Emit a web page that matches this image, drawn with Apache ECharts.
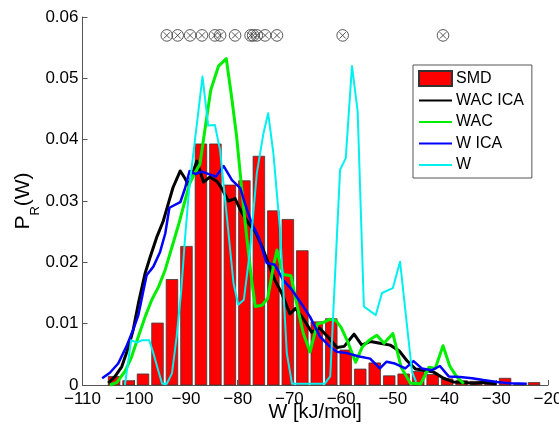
<!DOCTYPE html>
<html>
<head>
<meta charset="utf-8">
<script src="https://cdn.jsdelivr.net/npm/echarts@6/dist/echarts.min.js"></script>
<style>
  html, body { margin: 0; padding: 0; background: #fff; }
  #chart { width: 559px; height: 426px; }
</style>
</head>
<body>
<div id="chart"></div>
<script>
// Histogram of SMD work values: bin centres (kJ/mol) and probability densities
const binCenters = [-103.9, -101.1, -98.3, -95.5, -92.7, -89.9, -87.1, -84.3, -81.5, -78.7,
                    -75.9, -73.1, -70.3, -67.5, -64.7, -61.9, -59.1, -56.3, -53.5, -50.7,
                    -47.9, -45.1, -42.3, -39.5, -36.7, -33.9, -31.1, -28.3, -25.5, -22.7];
const smdDensity = [0.0014, 0.0007, 0.0018, 0.0101, 0.0172, 0.0226, 0.0393, 0.0393, 0.0326, 0.0333,
                    0.0373, 0.0284, 0.0270, 0.0219, 0.0103, 0.0108, 0.0057, 0.0026, 0.0036, 0.0015,
                    0.0018, 0.0022, 0.0017, 0.0010, 0.0007, 0.0006, 0.0006, 0.0011, 0.0001, 0.0004];
const binWidth = 2.8;

// Reconstructed distributions, [W, P_R(W)]
const wacIca = [[-105.0,0.0003],[-103.7,0.0014],[-102.4,0.0030],[-101.1,0.0062],[-100.2,0.0090],
  [-99.2,0.0133],[-97.9,0.0182],[-96.9,0.0209],[-95.6,0.0242],[-94.4,0.0267],[-93.4,0.0296],
  [-92.5,0.0322],[-91.1,0.0349],[-90.2,0.0337],[-89.5,0.0326],[-87.9,0.0365],[-86.6,0.0331],
  [-85.4,0.0339],[-84.0,0.0332],[-83.1,0.0321],[-81.8,0.0300],[-80.5,0.0304],[-79.2,0.0281],
  [-77.9,0.0264],[-76.6,0.0250],[-75.3,0.0226],[-74.1,0.0199],[-72.8,0.0171],[-71.5,0.0150],
  [-69.9,0.0116],[-68.8,0.0125],[-67.0,0.0104],[-65.7,0.0086],[-64.2,0.0093],[-62.5,0.0078],
  [-60.8,0.0061],[-59.4,0.0063],[-57.5,0.0083],[-56.0,0.0065],[-54.3,0.0071],[-52.5,0.0068],
  [-50.5,0.0065],[-48.8,0.0056],[-47.3,0.0040],[-45.6,0.0026],[-43.8,0.0024],[-42.1,0.0021],
  [-40.2,0.0011],[-38.3,0.0005],[-36.3,0.0004],[-34.4,0.0003],[-32.5,0.0004],[-30.0,0.0002]];

const wac = [[-104.7,0.0000],[-103.4,0.0004],[-101.8,0.0022],[-100.5,0.0046],[-99.2,0.0079],
  [-97.9,0.0111],[-96.6,0.0139],[-95.3,0.0160],[-94.0,0.0188],[-92.7,0.0225],[-91.3,0.0265],
  [-90.2,0.0300],[-89.3,0.0328],[-88.4,0.0344],[-87.3,0.0360],[-86.3,0.0418],[-85.2,0.0481],
  [-83.7,0.0520],[-82.2,0.0532],[-81.1,0.0465],[-80.2,0.0405],[-79.2,0.0318],[-78.2,0.0237],
  [-77.3,0.0171],[-76.6,0.0128],[-75.3,0.0130],[-74.2,0.0141],[-73.1,0.0193],[-72.4,0.0220],
  [-71.8,0.0199],[-71.2,0.0180],[-69.7,0.0178],[-68.6,0.0133],[-67.3,0.0084],[-66.0,0.0054],
  [-64.6,0.0100],[-63.4,0.0102],[-62.2,0.0107],[-61.0,0.0105],[-60.0,0.0094],[-58.8,0.0072],
  [-57.2,0.0037],[-55.9,0.0062],[-54.6,0.0073],[-53.1,0.0081],[-51.7,0.0068],[-50.0,0.0084],
  [-48.4,0.0029],[-46.6,0.0003],[-44.6,0.0002],[-43.0,0.0029],[-41.8,0.0027],[-40.3,0.0064],
  [-39.0,0.0031],[-37.7,0.0014],[-36.3,0.0002]];

const wIca = [[-106.2,0.0011],[-104.7,0.0020],[-103.1,0.0035],[-101.5,0.0063],[-100.2,0.0090],
  [-99.2,0.0114],[-98.2,0.0155],[-97.6,0.0179],[-96.3,0.0193],[-95.0,0.0217],[-94.0,0.0247],
  [-93.2,0.0289],[-91.1,0.0298],[-90.2,0.0320],[-89.3,0.0349],[-88.2,0.0344],[-86.9,0.0348],
  [-85.3,0.0343],[-84.2,0.0340],[-82.7,0.0357],[-81.1,0.0334],[-79.5,0.0321],[-78.6,0.0296],
  [-77.3,0.0264],[-76.0,0.0242],[-74.4,0.0199],[-72.8,0.0196],[-71.2,0.0171],[-69.5,0.0155],
  [-67.8,0.0134],[-66.0,0.0111],[-64.1,0.0079],[-62.1,0.0062],[-60.8,0.0054],[-58.9,0.0052],
  [-56.7,0.0047],[-54.4,0.0043],[-52.5,0.0027],[-51.2,0.0038],[-49.6,0.0035],[-47.6,0.0027],
  [-46.0,0.0039],[-44.4,0.0027],[-42.5,0.0024],[-40.9,0.0031],[-39.2,0.0014],[-37.0,0.0013],
  [-34.7,0.0011],[-32.5,0.0008],[-29.9,0.0005],[-27.3,0.0003],[-24.1,0.0002]];

const w = [[-101.8,0.0000],[-100.6,0.0073],[-99.5,0.0069],[-98.5,0.0073],[-97.1,0.0073],
  [-96.3,0.0052],[-95.3,0.0022],[-94.6,0.0002],[-93.7,0.0002],[-92.7,0.0019],[-91.8,0.0079],
  [-90.9,0.0155],[-90.2,0.0237],[-89.4,0.0318],[-86.8,0.0503],[-85.7,0.0423],[-84.4,0.0424],
  [-83.4,0.0383],[-82.1,0.0275],[-80.8,0.0166],[-79.9,0.0131],[-78.8,0.0139],[-77.6,0.0220],
  [-76.3,0.0345],[-75.0,0.0411],[-74.1,0.0443],[-73.1,0.0378],[-71.8,0.0253],[-70.5,0.0052],
  [-69.5,0.0002],[-63.2,0.0002],[-62.1,0.0014],[-60.2,0.0351],[-59.1,0.0370],[-57.9,0.0520],
  [-56.8,0.0446],[-55.6,0.0128],[-53.3,0.0114],[-52.1,0.0150],[-50.0,0.0158],[-48.6,0.0201],
  [-46.3,0.0022],[-45.5,0.0005]];

// Work values of the individual trajectories, marked along the top
const trajectoryW = [-93.7, -91.6, -89.2, -86.9, -84.4, -83.4, -80.5, -77.5, -77.0, -76.3,
                     -74.7, -72.4, -59.7, -40.3];
const markerLevel = 0.057;

const FONT = '"Liberation Sans", Arial, Helvetica, sans-serif';
const minus = v => (v < 0 ? '\u2212' + Math.abs(v) : String(v));

const chart = echarts.init(document.getElementById('chart'), null, { renderer: 'canvas' });

const lineSeries = (name, data, color, width) => ({
  name, type: 'line', data, symbol: 'none', smooth: false, clip: false,
  lineStyle: { color, width, join: 'round' },
  itemStyle: { color }
});

// legend entries for the curves show only the line, no marker
const lineEntry = name => ({ name, itemStyle: { opacity: 0 } });

chart.setOption({
  backgroundColor: '#ffffff',
  animation: false,
  textStyle: { fontFamily: FONT },
  grid: { left: 82.5, right: 11, top: 17, bottom: 41, containLabel: false, outerBoundsMode: 'none' },
  legend: {
    orient: 'vertical', left: 413, top: 65,
    padding: [5, 8, 5, 5],
    itemWidth: 33, itemHeight: 15, itemGap: 5.5,
    backgroundColor: '#ffffff', borderColor: '#555555', borderWidth: 1,
    textStyle: { fontSize: 16, color: '#000', fontFamily: FONT, padding: [0, 0, 0, -1] },
    data: [
      { name: 'SMD', icon: 'rect' },
      lineEntry('WAC ICA'), lineEntry('WAC'), lineEntry('W ICA'), lineEntry('W')
    ]
  },
  xAxis: {
    type: 'value', min: -110, max: -20, interval: 10,
    name: 'W [kJ/mol]', nameLocation: 'middle', nameGap: 17, nameMoveOverlap: false,
    nameTextStyle: { fontSize: 20, color: '#000', fontFamily: FONT },
    axisLine: { show: true, onZero: false, lineStyle: { color: '#555', width: 1 } },
    axisTick: { show: true, inside: true, length: 5, lineStyle: { color: '#555' } },
    axisLabel: { fontSize: 17, color: '#000', margin: 6, formatter: minus, fontFamily: FONT },
    splitLine: { show: false }
  },
  yAxis: {
    type: 'value', min: 0, max: 0.06, interval: 0.01,
    name: '{p|P}{s|R}{p|(W)}', nameLocation: 'middle', nameGap: 41, nameRotate: 90,
    nameMoveOverlap: false,
    nameTextStyle: {
      color: '#000', fontFamily: FONT,
      rich: {
        p: { fontSize: 21, color: '#000', fontFamily: FONT, verticalAlign: 'bottom', padding: [0, 0, 8, 0] },
        s: { fontSize: 13, color: '#000', fontFamily: FONT, verticalAlign: 'bottom' }
      }
    },
    axisLine: { show: true, lineStyle: { color: '#555', width: 1 } },
    axisTick: { show: true, inside: true, length: 5, lineStyle: { color: '#555' } },
    axisLabel: {
      fontSize: 17, color: '#000', margin: 4, fontFamily: FONT,
      formatter: v => (v === 0 ? '0' : v.toFixed(2))
    },
    splitLine: { show: false }
  },
  series: [
    {
      name: 'SMD', type: 'custom',
      data: binCenters.map((c, i) => [c, smdDensity[i]]),
      encode: { x: 0, y: 1 },
      itemStyle: { color: '#ff0000', borderColor: '#333333', borderWidth: 1 },
      renderItem: (params, api) => {
        const c = api.value(0), v = api.value(1);
        const half = binWidth * 0.4;
        const top = api.coord([c - half, v]);
        const base = api.coord([c + half, 0]);
        return {
          type: 'rect',
          shape: { x: top[0], y: top[1], width: base[0] - top[0], height: base[1] - top[1] },
          style: { fill: '#ff0000', stroke: '#3a3a3a', lineWidth: 0.8 }
        };
      }
    },
    lineSeries('WAC ICA', wacIca, '#000000', 3),
    lineSeries('WAC', wac, '#00ee00', 3),
    lineSeries('W ICA', wIca, '#0000ff', 2.5),
    lineSeries('W', w, '#00f0f0', 2),
    {
      name: 'trajectories', type: 'custom',
      data: trajectoryW.map(x => [x, markerLevel]),
      encode: { x: 0, y: 1 },
      z: 5,
      renderItem: (params, api) => {
        const p = api.coord([api.value(0), api.value(1)]);
        const r = 5.8, d = 3.2;
        const st = { stroke: '#444444', fill: null, lineWidth: 0.9 };
        return {
          type: 'group',
          children: [
            { type: 'circle', shape: { cx: p[0], cy: p[1], r }, style: st },
            { type: 'line', shape: { x1: p[0] - d, y1: p[1] - d, x2: p[0] + d, y2: p[1] + d }, style: st },
            { type: 'line', shape: { x1: p[0] - d, y1: p[1] + d, x2: p[0] + d, y2: p[1] - d }, style: st }
          ]
        };
      }
    }
  ]
});
</script>
</body>
</html>
